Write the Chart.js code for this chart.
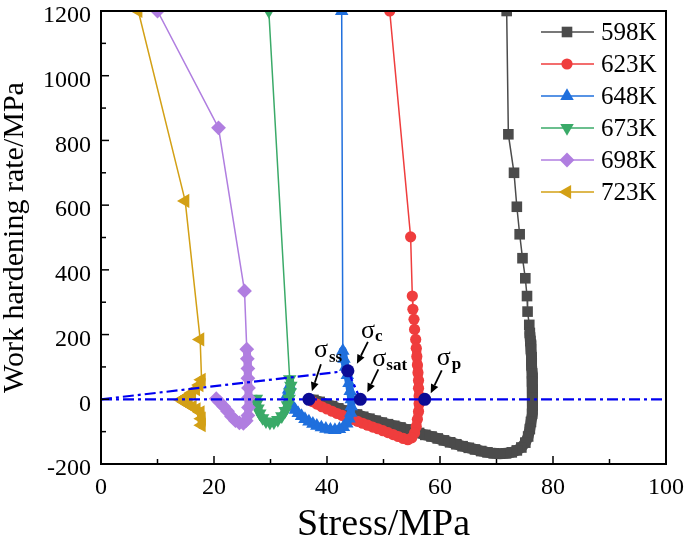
<!DOCTYPE html>
<html>
<head>
<meta charset="utf-8">
<title>Work hardening rate vs stress</title>
<script src="https://cdn.jsdelivr.net/npm/chart.js@4.4.1/dist/chart.umd.min.js"></script>
<style>
    html, body { margin: 0; padding: 0; background: #fff; }
    canvas { display: block; }
</style>
</head>
<body>
<canvas id="chart" width="685" height="544"></canvas>
<script>
// 온도별 곡선
var seriesNames = ['598K', '623K', '648K', '673K', '698K', '723K'];

// stress (MPa) / work hardening rate (MPa), 곡선을 따라 읽은 값
var stress598 = [71.8, 72.1, 73.1, 73.6, 74.1, 74.6, 75.1, 75.4, 75.5, 75.8,
    75.9, 76.0, 76.1, 76.2, 76.2, 76.3, 76.3, 76.4, 76.4, 76.4,
    76.3, 76.1, 75.9, 75.6, 75.1, 74.4, 73.6, 72.7, 71.7, 70.6,
    69.5, 68.4, 67.3, 66.2, 65.1, 64.0, 62.9, 61.8, 60.7, 59.6,
    58.5, 57.4, 56.3, 55.2, 54.1, 53.0, 51.9, 50.8, 49.7, 48.6,
    47.5, 46.4, 45.3, 44.2, 43.1, 42.0, 40.9, 39.8, 38.7, 37.6];
var rate598 = [1200, 819, 700, 595, 510, 436, 374, 319, 271, 230,
    205, 180, 155, 130, 105, 80, 55, 30, 5, -20,
    -45, -70, -92, -115, -134, -149, -158, -164, -167, -168,
    -167, -164, -160, -155, -150, -145, -139, -133, -127, -121,
    -115, -110, -104, -99, -93, -87, -82, -77, -72, -66,
    -60, -54, -47, -41, -35, -28, -21, -15, -8, -2];

var stress623 = [51.1, 54.8, 55.1, 55.2, 55.4, 55.5, 55.7, 55.8, 55.9, 56.0,
    56.1, 56.2, 56.2, 56.3, 56.3, 56.2, 56.0, 55.8, 55.5, 55.0,
    54.3, 53.5, 52.6, 51.7, 50.8, 49.9, 49.0, 48.1, 47.2, 46.3,
    45.4, 44.5, 43.6, 42.7, 41.8, 40.9, 40.0, 39.1, 38.2, 37.4];
var rate623 = [1200, 502, 319, 278, 247, 216, 185, 158, 132, 106,
    82, 58, 34, 10, -14, -38, -62, -84, -104, -119,
    -125, -121, -115, -109, -103, -97, -91, -86, -80, -74,
    -68, -62, -56, -50, -44, -37, -30, -23, -15, -7];

var stress648 = [42.6, 42.8, 43.0, 43.3, 43.6, 43.9, 44.1, 44.3, 44.3, 44.2,
    43.9, 43.5, 42.9, 42.2, 41.4, 40.6, 39.8, 39.0, 38.2, 37.5,
    36.8, 36.1, 35.5, 34.9, 34.4, 33.9, 33.5, 33.2, 33.0, 33.2, 33.4];
var rate648 = [1200, 150, 125, 100, 75, 50, 25, 0, -22, -42,
    -60, -75, -86, -92, -95, -94, -91, -87, -82, -76,
    -69, -61, -52, -43, -33, -23, -12, 0, 15, 30, 42];

var stress673 = [29.7, 33.4, 33.6, 33.5, 33.3, 33.0, 32.6, 32.0, 31.3, 30.6,
    29.9, 29.2, 28.6, 28.1, 27.8, 27.6, 27.5];
var rate673 = [1200, 62, 42, 22, 2, -18, -36, -52, -64, -71,
    -72, -68, -58, -44, -28, -12, 2];

var stress698 = [10.0, 20.8, 25.4, 25.8, 25.9, 26.0, 26.0, 26.1, 26.1, 26.1,
    26.0, 25.7, 25.2, 24.5, 23.8, 23.1, 22.4, 21.7, 21.0, 20.4];
var rate698 = [1200, 839, 335, 155, 125, 95, 65, 35, 5, -25,
    -50, -66, -74, -73, -66, -53, -37, -22, -9, 2];

var stress723 = [6.6, 14.9, 17.55, 17.8, 17.4, 16.8, 16.1, 15.4, 14.7, 14.2,
    14.8, 15.5, 16.2, 16.9, 17.6, 17.8, 17.8];
var rate723 = [1200, 613, 185, 60, 44, 31, 20, 10, 3, -2,
    -9, -16, -23, -31, -40, -60, -80];

// 파란 일점쇄선
var zeroLineStress = [0, 100];
var zeroLineRate = [0, 0];
var slopeLineStress = [0, 43.7];
var slopeLineRate = [0, 88];
var linkLineStress = [43.7, 45.9];
var linkLineRate = [88, 0];

// 특성점 σss, σc, σsat, σp
var markNames = ['ss', 'c', 'sat', 'p'];
var markStress = [36.8, 43.7, 45.9, 57.3];
var markRate = [0, 88, 0, 0];

// 눈금
var xTicks = [0, 20, 40, 60, 80, 100];
var yTicks = [-200, 0, 200, 400, 600, 800, 1000, 1200];

// 스타일
var seriesColors = ['#4b4b4b', '#ef3d3d', '#1f6fdd', '#3aaa68', '#b07ee0', '#d3a015'];
var seriesMarkers = ['rect', 'circle', 'triangle', 'triangle', 'rectRot', 'triangle'];
var seriesRotation = [0, 0, 0, 180, 0, 270];
var seriesRadius = [7.5, 5.6, 7.8, 7.8, 7.4, 8.2];
// 점이 빽빽한 구간은 굵은 띠로 보임 (시작 인덱스, 띠 두께)
var bandFrom = [10, 7, 1, 1, 3, 3];
var bandWidth = [11, 9, 8, 8, 8, 8];
var serif = "'Liberation Serif', 'Times New Roman', serif";

// 라벨/화살표 위치 (점 기준 픽셀)
var markLayout = [
    {sx: 5, sy: -42, bx: 20, by: -37, ax1: 12, ay1: -35, ax2: 3, ay2: -8},
    {sx: 13, sy: -33, bx: 27, by: -30, ax1: 20, ay1: -29, ax2: 9, ay2: -7},
    {sx: 12, sy: -33, bx: 26, by: -29, ax1: 18, ay1: -30, ax2: 7, ay2: -7},
    {sx: 12, sy: -34, bx: 27, by: -30, ax1: 17, ay1: -29, ax2: 6, ay2: -6}
];

function toPoints(xs, ys) {
    var pts = [];
    for (var i = 0; i < xs.length; i++) {
        pts.push({x: xs[i], y: ys[i]});
    }
    return pts;
}

function bandSegment(from, width) {
    return function (ctx) {
        return ctx.p0DataIndex >= from ? width : 1.5;
    };
}

var stressList = [stress598, stress623, stress648, stress673, stress698, stress723];
var rateList = [rate598, rate623, rate648, rate673, rate698, rate723];

var datasets = [];
for (var i = 0; i < seriesNames.length; i++) {
    datasets.push({
        label: seriesNames[i],
        data: toPoints(stressList[i], rateList[i]),
        showLine: true,
        borderColor: seriesColors[i],
        backgroundColor: seriesColors[i],
        borderWidth: 1.5,
        borderJoinStyle: 'round',
        borderCapStyle: 'round',
        segment: {borderWidth: bandSegment(bandFrom[i], bandWidth[i])},
        pointStyle: seriesMarkers[i],
        pointRotation: seriesRotation[i],
        pointRadius: seriesRadius[i],
        pointBackgroundColor: seriesColors[i],
        pointBorderColor: seriesColors[i],
        pointBorderWidth: 0,
        clip: 0,
        order: seriesNames.length - i   // 나중 온도가 위에 그려지도록
    });
}

function guideLine(xs, ys) {
    return {
        label: 'guide',
        data: toPoints(xs, ys),
        showLine: true,
        borderColor: '#0000f0',
        borderWidth: 2.2,
        borderDash: [11, 4, 3, 4],
        pointRadius: 0,
        clip: 0,
        order: -1
    };
}
datasets.push(guideLine(zeroLineStress, zeroLineRate));
datasets.push(guideLine(slopeLineStress, slopeLineRate));
datasets.push(guideLine(linkLineStress, linkLineRate));
datasets.push({
    label: 'marks',
    data: toPoints(markStress, markRate),
    showLine: false,
    pointRadius: 6.5,
    pointBackgroundColor: '#0b0b94',
    pointBorderColor: '#0b0b94',
    pointBorderWidth: 0,
    order: -2
});

function drawMarker(ctx, style, radius, rotation, x, y) {
    if (Chart.helpers && Chart.helpers.drawPoint) {
        Chart.helpers.drawPoint(ctx, {pointStyle: style, radius: radius, rotation: rotation, borderWidth: 0}, x, y);
        return;
    }
    ctx.beginPath();
    ctx.arc(x, y, radius, 0, Math.PI * 2);
    ctx.fill();
}

function drawArrow(ctx, x1, y1, x2, y2) {
    var ang = Math.atan2(y2 - y1, x2 - x1);
    var head = 9, half = 4;
    var c = Math.cos(ang), s = Math.sin(ang);
    ctx.beginPath();
    ctx.moveTo(x1, y1);
    ctx.lineTo(x2 - c * head, y2 - s * head);
    ctx.stroke();
    ctx.beginPath();
    ctx.moveTo(x2, y2);
    ctx.lineTo(x2 - c * head + s * half, y2 - s * head - c * half);
    ctx.lineTo(x2 - c * head - s * half, y2 - s * head + c * half);
    ctx.closePath();
    ctx.fill();
}

var decorPlugin = {
    id: 'decor',
    afterDatasetsDraw: function (chart) {
        var ctx = chart.ctx;
        var area = chart.chartArea;
        var xs = chart.scales.x, ys = chart.scales.y;
        ctx.save();
        // 안쪽 눈금
        ctx.strokeStyle = '#000';
        ctx.lineWidth = 1.5;
        for (var v = 0; v <= 100; v += 10) {
            var px = xs.getPixelForValue(v);
            var len = (v % 20 === 0) ? 8 : 5;
            ctx.beginPath();
            ctx.moveTo(px, area.bottom);
            ctx.lineTo(px, area.bottom - len);
            ctx.stroke();
        }
        for (var w = -200; w <= 1200; w += 100) {
            var py = ys.getPixelForValue(w);
            var len2 = (w % 200 === 0) ? 8 : 5;
            ctx.beginPath();
            ctx.moveTo(area.left, py);
            ctx.lineTo(area.left + len2, py);
            ctx.stroke();
        }
        // 테두리
        ctx.lineWidth = 2;
        ctx.strokeRect(area.left, area.top, area.right - area.left, area.bottom - area.top);

        // σ 라벨과 화살표
        ctx.fillStyle = '#000';
        ctx.lineWidth = 1.8;
        ctx.textBaseline = 'alphabetic';
        ctx.textAlign = 'left';
        for (var k = 0; k < markNames.length; k++) {
            var dx = xs.getPixelForValue(markStress[k]);
            var dy = ys.getPixelForValue(markRate[k]);
            var lay = markLayout[k];
            ctx.font = '26px ' + serif;
            ctx.fillText('\u03c3', dx + lay.sx, dy + lay.sy);
            ctx.font = 'bold 17px ' + serif;
            ctx.fillText(markNames[k], dx + lay.bx, dy + lay.by);
            drawArrow(ctx, dx + lay.ax1, dy + lay.ay1, dx + lay.ax2, dy + lay.ay2);
        }

        // 범례
        ctx.textBaseline = 'middle';
        ctx.font = '25px ' + serif;
        for (var j = 0; j < seriesNames.length; j++) {
            var ds = chart.data.datasets[j];
            var ly = area.top + 21 + j * 32;
            ctx.strokeStyle = ds.borderColor;
            ctx.lineWidth = 1.5;
            ctx.beginPath();
            ctx.moveTo(area.right - 125, ly);
            ctx.lineTo(area.right - 72, ly);
            ctx.stroke();
            ctx.fillStyle = ds.pointBackgroundColor;
            drawMarker(ctx, ds.pointStyle, ds.pointRadius, ds.pointRotation, area.right - 99, ly);
            ctx.fillStyle = '#000';
            ctx.fillText(ds.label, area.right - 65, ly + 1);
        }
        ctx.restore();
    }
};

function plainLabel(value) {
    return String(value);
}

new Chart(document.getElementById('chart').getContext('2d'), {
    type: 'scatter',
    data: {datasets: datasets},
    options: {
        responsive: false,
        animation: false,
        events: [],
        layout: {padding: {top: 11, right: 19, left: 0, bottom: 0}},
        plugins: {
            legend: {display: false},
            tooltip: {enabled: false}
        },
        scales: {
            x: {
                type: 'linear',
                min: 0,
                max: 100,
                afterFit: function (scale) {
                    scale.height = 80;
                    scale.paddingLeft = 0;
                    scale.paddingRight = 0;
                },
                afterBuildTicks: function (scale) {
                    scale.ticks = xTicks.map(function (t) { return {value: t}; });
                },
                grid: {display: false, drawTicks: false},
                border: {display: false},
                ticks: {
                    color: '#000',
                    padding: 9,
                    maxRotation: 0,
                    callback: plainLabel,
                    font: {family: serif, size: 24}
                },
                title: {
                    display: true,
                    text: 'Stress/MPa',
                    color: '#000',
                    font: {family: serif, size: 38, lineHeight: 1},
                    padding: 0
                }
            },
            y: {
                type: 'linear',
                min: -200,
                max: 1200,
                afterFit: function (scale) {
                    scale.width = 101;
                    scale.paddingTop = 0;
                    scale.paddingBottom = 0;
                },
                afterBuildTicks: function (scale) {
                    scale.ticks = yTicks.map(function (t) { return {value: t}; });
                },
                grid: {display: false, drawTicks: false},
                border: {display: false},
                ticks: {
                    color: '#000',
                    padding: 10,
                    labelOffset: 5,
                    callback: plainLabel,
                    font: {family: serif, size: 24}
                },
                title: {
                    display: true,
                    text: 'Work hardening rate/MPa',
                    color: '#000',
                    font: {family: serif, size: 30, lineHeight: 1},
                    padding: 0
                }
            }
        }
    },
    plugins: [decorPlugin]
});
</script>
</body>
</html>
